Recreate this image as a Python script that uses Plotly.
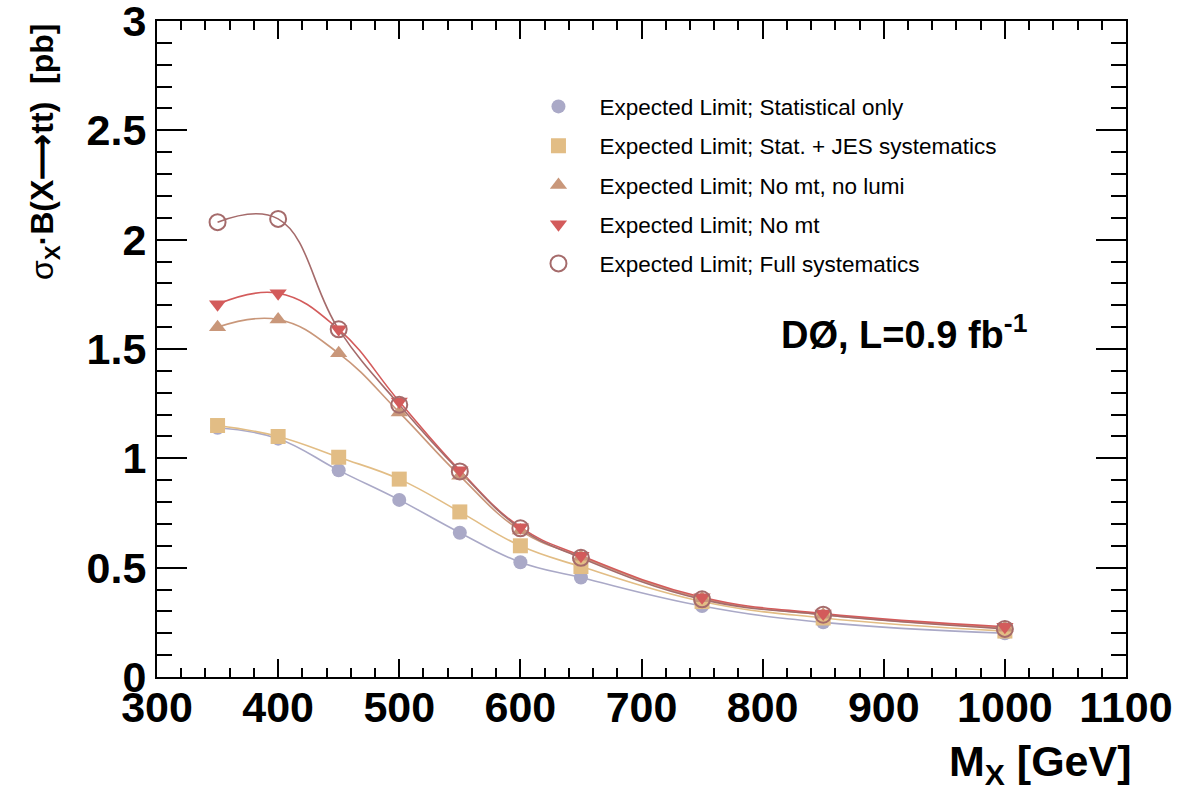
import plotly.graph_objects as go

mass = [350, 400, 450, 500, 550, 600, 650, 750, 850, 1000]

stat_only = [1.14, 1.09, 0.945, 0.81, 0.66, 0.525, 0.455, 0.325, 0.25, 0.20]
stat_jes = [1.15, 1.10, 1.005, 0.905, 0.755, 0.60, 0.505, 0.345, 0.27, 0.21]
no_mt_no_lumi = [1.60, 1.635, 1.48, 1.21, 0.92, 0.67, 0.55, 0.36, 0.285, 0.225]
no_mt = [1.705, 1.755, 1.59, 1.26, 0.945, 0.685, 0.555, 0.365, 0.29, 0.23]
full_syst = [2.08, 2.095, 1.59, 1.245, 0.94, 0.68, 0.545, 0.355, 0.285, 0.22]

names = [
    "Expected Limit; Statistical only",
    "Expected Limit; Stat. + JES systematics",
    "Expected Limit; No mt, no lumi",
    "Expected Limit; No mt",
    "Expected Limit; Full systematics",
]
series = [stat_only, stat_jes, no_mt_no_lumi, no_mt, full_syst]
colors = ["#aaa9c7", "#e2bd85", "#c9977a", "#d35b5b", "#a56b6b"]
symbols = ["circle", "square", "triangle-up", "triangle-down", "circle-open"]
sizes = [14, 15, 15, 15, 16]

fig = go.Figure()
for i, (nm, ys, c, s, sz) in enumerate(zip(names, series, colors, symbols, sizes)):
    fig.add_trace(go.Scatter(
        x=mass, y=ys, mode="lines", line=dict(color=c, width=1.6, shape="spline", smoothing=1.2),
        showlegend=False, hoverinfo="skip"))
for i, (nm, ys, c, s, sz) in enumerate(zip(names, series, colors, symbols, sizes)):
    mk = dict(symbol=s, size=sz, color=c)
    if s == "circle-open":
        mk["line"] = dict(color=c, width=2)
    else:
        mk["line"] = dict(width=0)
    fig.add_trace(go.Scatter(
        x=mass, y=ys, mode="markers", marker=mk, name=nm, legendgroup=f"g{i}"))

axis_font = dict(family="Liberation Sans", size=43, color="black", weight="bold")

fig.update_layout(
    width=1183, height=794,
    margin=dict(l=157, r=57, t=21, b=117, autoexpand=False),
    plot_bgcolor="white", paper_bgcolor="white",
    font=dict(family="Liberation Sans", color="black"),
    xaxis=dict(
        range=[300, 1100], dtick=100, tick0=300, showgrid=False, zeroline=False,
        showline=True, linecolor="black", linewidth=2, mirror="allticks",
        ticks="inside", ticklen=18, tickwidth=2, tickcolor="black",
        minor=dict(dtick=20, ticks="inside", ticklen=9, tickwidth=2, tickcolor="black", showgrid=False),
        tickfont=axis_font, ticklabelstandoff=-9, ticklabeloverflow="allow", automargin=False,
    ),
    yaxis=dict(
        range=[0, 3], dtick=0.5, tick0=0, showgrid=False, zeroline=False,
        showline=True, linecolor="black", linewidth=2, mirror="allticks",
        ticks="inside", ticklen=30, tickwidth=2, tickcolor="black",
        minor=dict(dtick=0.1, ticks="inside", ticklen=15, tickwidth=2, tickcolor="black", showgrid=False),
        tickfont=axis_font, ticklabelstandoff=0, ticklabeloverflow="allow", automargin=False,
    ),
    legend=dict(
        x=0.372, y=0.902, xanchor="left", yanchor="top",
        bgcolor="rgba(0,0,0,0)", borderwidth=0,
        font=dict(family="Liberation Sans", size=22.5, color="black"),
        tracegroupgap=7, itemwidth=72,
    ),
    annotations=[
        dict(text="σ<sub><b>X</b></sub><b>·B(X⟶tt)&nbsp;&nbsp;[pb]</b>",
             xref="paper", yref="paper", x=-0.116, y=1.0, xanchor="center", yanchor="top",
             textangle=-90, showarrow=False,
             font=dict(family="Liberation Sans", size=32, color="black")),
        dict(text="<b>M<sub>X</sub> [GeV]</b>",
             xref="paper", yref="paper", x=1.008, y=-0.088, xanchor="right", yanchor="top",
             showarrow=False,
             font=dict(family="Liberation Sans", size=43, color="black")),
        dict(text="<b>DØ, L=0.9 fb<sup>-1</sup></b>",
             xref="paper", yref="paper", x=0.642, y=0.526, xanchor="left", yanchor="middle",
             showarrow=False,
             font=dict(family="Liberation Sans", size=38, color="black")),
    ],
)

fig.write_html("out.html")
